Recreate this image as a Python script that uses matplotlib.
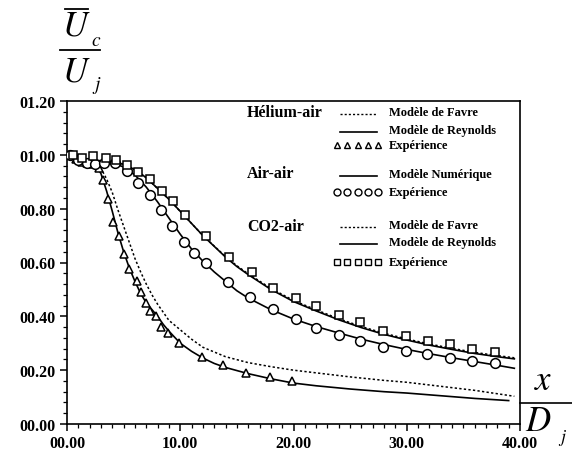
import numpy as np
import matplotlib
matplotlib.use("Agg")
import matplotlib.pyplot as plt
from matplotlib.ticker import MultipleLocator, FuncFormatter
from matplotlib.lines import Line2D

matplotlib.rcParams.update({"font.family": "Liberation Serif", "mathtext.fontset": "stix"})

# ---- data ----
# Helium-air
he_rey_x = [0, 1, 2, 2.5, 3, 3.5, 4, 4.5, 5, 5.5, 6, 6.5, 7, 7.5, 8, 8.5, 9, 10, 11, 12, 13, 14, 16, 18, 20, 22, 25, 28, 30, 33, 36, 39]
he_rey_y = [1.00, 0.985, 0.975, 0.965, 0.93, 0.865, 0.79, 0.71, 0.64, 0.58, 0.53, 0.485, 0.45, 0.425, 0.40, 0.37, 0.345, 0.30, 0.27, 0.245, 0.225, 0.21, 0.187, 0.168, 0.152, 0.142, 0.130, 0.120, 0.115, 0.105, 0.095, 0.087]
he_fav_x = [0, 1, 2, 2.5, 3, 3.5, 4, 4.5, 5, 5.5, 6, 6.5, 7, 7.5, 8, 8.5, 9, 10, 11, 12, 14, 16, 18, 20, 22, 25, 28, 30, 33, 36, 39.5]
he_fav_y = [1.00, 0.985, 0.978, 0.97, 0.95, 0.91, 0.86, 0.795, 0.735, 0.675, 0.615, 0.565, 0.52, 0.48, 0.445, 0.415, 0.385, 0.35, 0.315, 0.285, 0.25, 0.228, 0.213, 0.20, 0.19, 0.175, 0.162, 0.155, 0.14, 0.125, 0.103]
he_exp_x = [0.3, 0.8, 1.3, 1.8, 2.3, 2.8, 3.2, 3.6, 4.1, 4.6, 5.0, 5.5, 6.2, 6.5, 7.0, 7.3, 7.9, 8.3, 8.9, 9.9, 11.9, 13.8, 15.8, 17.9, 19.9]
he_exp_y = [1.00, 0.985, 0.975, 0.97, 0.965, 0.95, 0.907, 0.837, 0.75, 0.70, 0.633, 0.574, 0.53, 0.49, 0.45, 0.42, 0.40, 0.36, 0.337, 0.30, 0.25, 0.22, 0.19, 0.174, 0.16]

# Air-air
air_num_x = [0, 1, 2, 3, 4, 5, 6, 7, 8, 9, 10, 11, 12, 13, 14, 15, 16, 18, 20, 22, 24, 26, 28, 30, 32, 34, 36, 38, 39.5]
air_num_y = [1.00, 0.985, 0.978, 0.975, 0.97, 0.955, 0.925, 0.88, 0.825, 0.765, 0.705, 0.65, 0.605, 0.565, 0.53, 0.495, 0.468, 0.425, 0.39, 0.362, 0.338, 0.315, 0.295, 0.277, 0.261, 0.246, 0.232, 0.218, 0.207]
air_exp_x = [0.3, 1.0, 1.8, 2.5, 3.3, 4.2, 5.3, 6.3, 7.3, 8.3, 9.3, 10.3, 11.2, 12.3, 14.2, 16.2, 18.2, 20.2, 22.0, 24.0, 25.9, 27.9, 29.9, 31.8, 33.8, 35.8, 37.8]
air_exp_y = [1.00, 0.98, 0.97, 0.965, 0.97, 0.97, 0.94, 0.896, 0.85, 0.796, 0.737, 0.678, 0.637, 0.60, 0.526, 0.47, 0.426, 0.39, 0.355, 0.33, 0.307, 0.285, 0.27, 0.259, 0.244, 0.233, 0.226]

# CO2-air
co2_rey_x = [0, 1, 2, 3, 4, 5, 6, 7, 8, 9, 10, 11, 12, 13, 14, 15, 16, 18, 20, 22, 24, 26, 28, 30, 32, 34, 36, 38, 39.5]
co2_rey_y = [1.00, 0.985, 0.98, 0.978, 0.975, 0.965, 0.945, 0.915, 0.875, 0.835, 0.79, 0.745, 0.70, 0.66, 0.62, 0.585, 0.555, 0.50, 0.455, 0.42, 0.387, 0.358, 0.333, 0.312, 0.293, 0.277, 0.262, 0.25, 0.242]
co2_fav_x = [0, 1, 2, 3, 4, 5, 6, 7, 8, 9, 10, 11, 12, 13, 14, 15, 16, 18, 20, 22, 24, 26, 28, 30, 32, 34, 36, 38, 39.5]
co2_fav_y = [1.00, 0.985, 0.98, 0.978, 0.975, 0.965, 0.945, 0.915, 0.875, 0.835, 0.79, 0.745, 0.70, 0.661, 0.622, 0.588, 0.558, 0.504, 0.459, 0.424, 0.391, 0.362, 0.337, 0.316, 0.297, 0.281, 0.266, 0.254, 0.246]
co2_exp_x = [0.5, 1.3, 2.3, 3.4, 4.3, 5.3, 6.3, 7.3, 8.4, 9.4, 10.4, 12.3, 14.3, 16.3, 18.2, 20.2, 22.0, 24.0, 25.9, 27.9, 29.9, 31.9, 33.8, 35.8, 37.8]
co2_exp_y = [1.00, 0.99, 0.995, 0.99, 0.98, 0.963, 0.937, 0.91, 0.867, 0.83, 0.778, 0.70, 0.622, 0.563, 0.507, 0.467, 0.437, 0.404, 0.378, 0.344, 0.326, 0.307, 0.296, 0.278, 0.267]

W, H = 572, 452
fig = plt.figure(figsize=(W / 100, H / 100), dpi=100)
ax = fig.add_axes([67 / W, 1 - 425 / H, (520 - 67) / W, (425 - 102) / H])

def P(x, y):
    return x / W, 1 - y / H

lw = 1.2
dot = (0, (1.5, 1.5))
ax.plot(he_rey_x, he_rey_y, color="black", lw=lw)
ax.plot(he_fav_x, he_fav_y, color="black", lw=1.1, ls=dot)
ax.plot(air_num_x, air_num_y, color="black", lw=lw)
ax.plot(co2_rey_x, co2_rey_y, color="black", lw=lw)
ax.plot(co2_fav_x, co2_fav_y, color="black", lw=1.1, ls=dot)
mk = dict(ls="none", mfc="white", mec="black", mew=1.1, zorder=5)
ax.plot(he_exp_x, he_exp_y, marker="^", ms=6, **mk)
ax.plot(air_exp_x, air_exp_y, marker="o", ms=7, **mk)
ax.plot(co2_exp_x, co2_exp_y, marker="s", ms=5.5, **mk)

ax.set_xlim(0, 40); ax.set_ylim(0, 1.2)
ax.xaxis.set_major_locator(MultipleLocator(10)); ax.xaxis.set_minor_locator(MultipleLocator(1))
ax.yaxis.set_major_locator(MultipleLocator(0.2)); ax.yaxis.set_minor_locator(MultipleLocator(0.04))
fmt = FuncFormatter(lambda v, p: f"{v:05.2f}")
ax.xaxis.set_major_formatter(fmt); ax.yaxis.set_major_formatter(fmt)
ax.tick_params(which="major", direction="out", length=5, width=1.1, pad=3)
ax.tick_params(which="minor", direction="out", length=3, width=0.9)
for lab in ax.get_xticklabels() + ax.get_yticklabels():
    lab.set_fontweight("bold"); lab.set_fontsize(11.5)
for s in ax.spines.values():
    s.set_linewidth(1.2)

# legend written as free text
bold = dict(fontweight="bold", va="center", ha="left")
fig.text(*P(247, 113), "Hélium-air", fontsize=11.5, **bold)
fig.text(*P(247, 174), "Air-air", fontsize=11.5, **bold)
fig.text(*P(247, 227), "CO2-air", fontsize=11.5, **bold)
rows = [(113, "Modèle de Favre", "dot"), (131, "Modèle de Reynolds", "line"), (146, "Expérience", "^"),
        (175, "Modèle Numérique", "line"), (193, "Expérience", "o"),
        (226, "Modèle de Favre", "dot"), (243, "Modèle de Reynolds", "line"), (263, "Expérience", "s")]
for y, txt, kind in rows:
    fig.text(*P(389, y), txt, fontsize=9, **bold)
    if kind in ("dot", "line"):
        fig.add_artist(Line2D([340 / W, 377 / W], [1 - (y + 2) / H] * 2, color="black",
                              lw=1.0 if kind == "dot" else 1.2, ls=dot if kind == "dot" else "-"))
    else:
        xs = np.linspace(337, 378, 5) / W
        fig.add_artist(Line2D(xs, [1 - y / H] * 5, ls="none", marker=kind, ms=4.5 if kind != "o" else 5,
                              mfc="white", mec="black", mew=1.0))

# y label: overline U_c / U_j
fig.text(*P(76, 27), r"$U$", fontsize=25, ha="center", va="center")
fig.add_artist(Line2D([65 / W, 88 / W], [1 - 10 / H] * 2, color="black", lw=1.3))
fig.text(*P(91, 41), r"$c$", fontsize=14, ha="left", va="center")
fig.add_artist(Line2D([60 / W, 100 / W], [1 - 51 / H] * 2, color="black", lw=1.3))
fig.text(*P(76, 73), r"$U$", fontsize=25, ha="center", va="center")
fig.text(*P(92, 85), r"$j$", fontsize=14, ha="left", va="center")

# x label: x / D_j
fig.text(*P(543, 382), r"$x$", fontsize=25, ha="center", va="center")
fig.add_artist(Line2D([520 / W, 1.0], [1 - 404 / H] * 2, color="black", lw=1.2))
fig.text(*P(538, 423), r"$D$", fontsize=25, ha="center", va="center")
fig.text(*P(558, 438), r"$j$", fontsize=13, ha="left", va="center")

fig.savefig("out.png", dpi=100, facecolor="white")
